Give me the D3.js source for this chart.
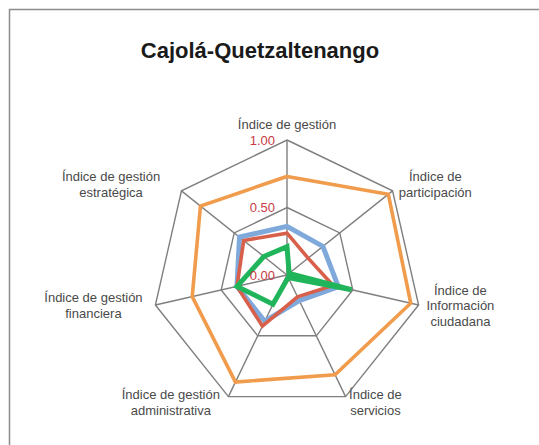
<!DOCTYPE html>
<head>
  <meta charset="utf-8">
  <style>
    body { margin: 0; background: #fff; }
    .grid { fill: none; stroke: #7f7f7f; stroke-width: 1.4px; }
    .spoke { stroke: #7f7f7f; stroke-width: 1.4px; }
    .axis-label { font: 13px "Liberation Sans", Arial, sans-serif; fill: #4a4a4a; }
    .tick-label { font: 13px "Liberation Sans", Arial, sans-serif; fill: #c83a44; }
    .title { font: bold 22px "Liberation Sans", Arial, sans-serif; fill: #1a1a1a; }
    .series { fill: none; stroke-linejoin: miter; }
  </style>
  <script src="https://d3js.org/d3.v7.min.js"></script>
</head>

<body>
  <div id="content"></div>
  <script>
  // axes, clockwise from the top
  var categories = [
    ["Índice de gestión"],
    ["Índice de", "participación"],
    ["Índice de", "Información", "ciudadana"],
    ["Índice de", "servicios"],
    ["Índice de gestión", "administrativa"],
    ["Índice de gestión", "financiera"],
    ["Índice de gestión", "estratégica"]
  ];

  var seriesOrange = [0.73, 0.96, 0.94, 0.82, 0.88, 0.72, 0.82];
  var seriesBlue   = [0.36, 0.34, 0.39, 0.21, 0.38, 0.38, 0.45];
  var seriesRed    = [0.31, 0.20, 0.35, 0.18, 0.42, 0.38, 0.41];
  var seriesGreen  = [0.21, 0.02, 0.49, 0.02, 0.24, 0.38, 0.22];

  var tickValues = [0, 0.5, 1];
  var gridValues = [0.5, 1];

  var width = 539, height = 445;
  var cx = 287, cy = 275;

  var svg = d3.select("#content").append("svg")
      .attr("width", width)
      .attr("height", height);

  // chart frame
  svg.append("rect")
      .attr("x", 9.5).attr("y", 9.5)
      .attr("width", width + 20).attr("height", height + 20)
      .attr("fill", "none")
      .attr("stroke", "#8c8c8c")
      .attr("stroke-width", 1.5);

  svg.append("text")
      .attr("class", "title")
      .attr("x", 260)
      .attr("y", 58)
      .attr("text-anchor", "middle")
      .text("Cajolá-Quetzaltenango");

  var r = d3.scaleLinear().domain([0, 1]).range([0, 135]);
  var n = categories.length;
  var angle = d3.scaleLinear().domain([0, n]).range([0, 2 * Math.PI]);

  var g = svg.append("g")
      .attr("transform", "translate(" + cx + "," + cy + ")");

  var radial = d3.lineRadial()
      .angle(function(d, i) { return angle(i); })
      .radius(function(d) { return r(d); })
      .curve(d3.curveLinearClosed);

  // heptagon grid
  g.selectAll(".grid")
      .data(gridValues)
    .enter().append("path")
      .attr("class", "grid")
      .attr("d", function(v) { return radial(categories.map(function() { return v; })); });

  // spokes
  g.selectAll(".spoke")
      .data(categories)
    .enter().append("line")
      .attr("class", "spoke")
      .attr("x1", 0).attr("y1", 0)
      .attr("x2", function(d, i) { return r(1) * Math.sin(angle(i)); })
      .attr("y2", function(d, i) { return -r(1) * Math.cos(angle(i)); });

  // series
  var series = [
    {values: seriesOrange, color: "#f09c4c", w: 3.6},
    {values: seriesBlue,   color: "#7fa9db", w: 5},
    {values: seriesRed,    color: "#d8604a", w: 3.6},
    {values: seriesGreen,  color: "#20b45b", w: 5}
  ];

  g.selectAll(".series")
      .data(series)
    .enter().append("path")
      .attr("class", "series")
      .attr("stroke", function(d) { return d.color; })
      .attr("stroke-width", function(d) { return d.w; })
      .attr("d", function(d) { return radial(d.values); });

  // tick labels
  g.selectAll(".tick-label")
      .data(tickValues)
    .enter().append("text")
      .attr("class", "tick-label")
      .attr("x", -12)
      .attr("y", function(v) { return -r(v); })
      .attr("dy", "0.36em")
      .attr("text-anchor", "end")
      .text(function(v) { return d3.format(".2f")(v); });

  // axis labels, centred blocks placed just outside each vertex
  var labelNudge = [0, 0, 0, 0, -5, -5, -15];
  var lineH = 15.5;

  categories.forEach(function(lines, i) {
    var a = angle(i), s = Math.sin(a), c = -Math.cos(a);
    var px = (r(1) + 8) * s, py = (r(1) + 8) * c;
    var t = g.append("text")
        .attr("class", "axis-label")
        .attr("text-anchor", "middle");
    lines.forEach(function(line, j) {
      t.append("tspan").attr("x", 0).attr("y", j * lineH).text(line);
    });
    var bw = d3.max(t.selectAll("tspan").nodes(), function(nd) { return nd.getComputedTextLength(); });
    var bh = lines.length * lineH;
    var x = px, y;
    if (s > 0.1) x = px + bw / 2;
    else if (s < -0.1) x = px - bw / 2 + labelNudge[i];
    if (Math.abs(s) < 0.1) y = py - bh + 12;
    else y = py - bh / 2 + 11;
    t.attr("transform", "translate(" + x + "," + y + ")");
  });
  </script>
</body>
</html>
